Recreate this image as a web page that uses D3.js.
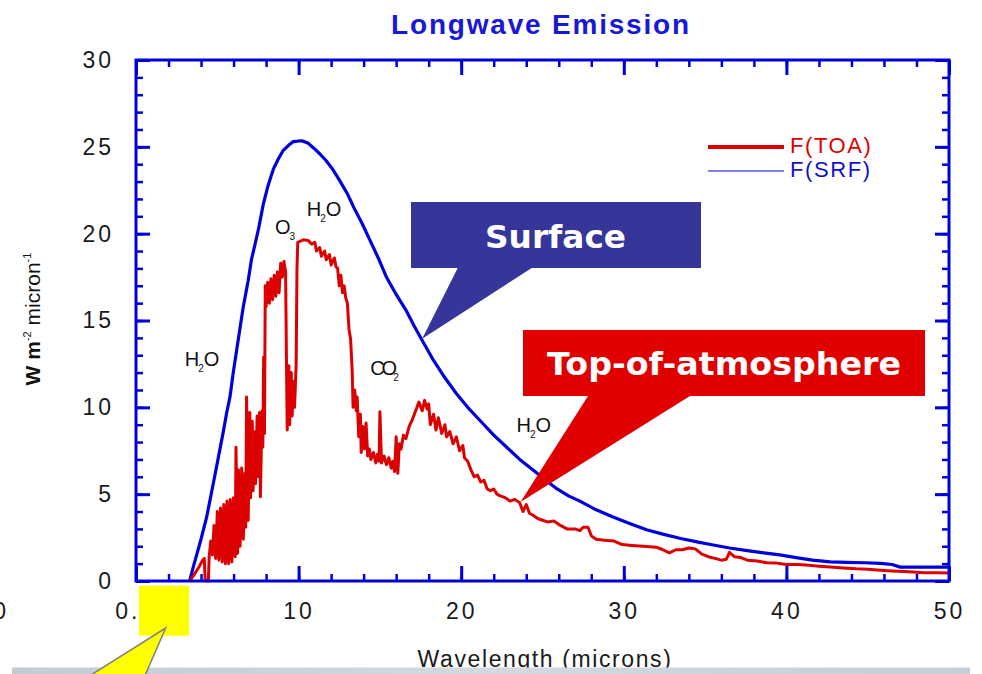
<!DOCTYPE html>
<html>
<head>
<meta charset="utf-8">
<script src="https://cdn.jsdelivr.net/npm/d3@7"></script>
<style>
  html, body { margin: 0; padding: 0; background: #fff; }
  svg { display: block; }
</style>
</head>
<body>
<svg id="chart" width="982" height="674"></svg>
<script>
// ---- Data -------------------------------------------------------------
const chartTitle = "Longwave Emission";
const xAxisTitle = "Wavelength (microns)";
const xTickValues = [0, 10, 20, 30, 40, 50];
const xTickLabels = ["0.", "10", "20", "30", "40", "50"];
const yTickValues = [0, 5, 10, 15, 20, 25, 30];
const yTickLabels = ["0", "5", "10", "15", "20", "25", "30"];
const legendLabels = ["F(TOA)", "F(SRF)"];

// Surface emission spectrum [wavelength (micron), W m-2 micron-1]
const surfaceSpectrum = [
  [3.3,0],[3.52,0.8],[3.94,2.2],[4.35,3.7],[4.75,5.6],[5.0,6.8],[5.37,8.6],[5.58,9.7],
  [5.78,10.6],[5.98,12.0],[6.29,13.9],[6.6,15.8],[6.9,17.3],[7.1,18.5],[7.52,20.2],
  [7.83,21.7],[8.1,22.7],[8.44,23.7],[8.75,24.3],[9.06,24.8],[9.4,25.1],[9.67,25.3],
  [10.2,25.35],[10.6,25.2],[10.9,24.95],[11.3,24.6],[11.7,24.2],[12.1,23.7],[12.5,23.1],
  [13.0,22.3],[13.4,21.5],[13.9,20.6],[14.4,19.6],[14.9,18.6],[15.4,17.5],[16.0,16.5],
  [16.6,15.6],[17.1,14.7],[17.57,13.9],[18.3,12.7],[19.0,11.7],[19.7,10.8],[20.4,10.0],
  [21.2,9.2],[22.0,8.4],[22.8,7.7],[23.6,7.0],[24.4,6.4],[25.2,5.8],[25.9,5.3],[26.6,4.9],
  [27.3,4.6],[28.3,4.1],[29.3,3.7],[30.4,3.3],[31.4,2.95],[32.4,2.7],[33.5,2.45],
  [34.5,2.25],[35.5,2.07],[36.5,1.9],[37.6,1.75],[38.6,1.62],[39.6,1.5],[40.6,1.35],
  [41.6,1.2],[42.7,1.1],[43.7,1.07],[44.8,1.05],[45.8,1.02],[46.5,0.95],[47.0,0.8],
  [48.0,0.8],[49.0,0.8],[50.0,0.8]
];

// Top-of-atmosphere emission spectrum [wavelength (micron), W m-2 micron-1]
const toaSpectrum = [
  [3.3,0],[3.6,0.4],[3.9,0.85],[4.1,1.2],[4.2,1.3],[4.25,0.1],[4.35,0],[4.45,0],
  [4.5,1.4],[4.6,2.3],[4.7,1.5],[4.8,3.2],[4.9,1.3],[5.0,4.0],[5.1,1.2],[5.2,4.2],
  [5.3,1.1],[5.4,4.4],[5.5,1.0],[5.6,4.6],[5.7,1.0],[5.8,4.7],[5.9,1.1],[6.0,4.8],
  [6.1,1.4],[6.15,7.7],[6.25,1.6],[6.3,6.4],[6.4,2.0],[6.5,6.5],[6.6,2.4],[6.7,6.2],
  [6.75,3.1],[6.8,10.6],[6.9,3.5],[7.0,9.7],[7.05,4.8],[7.15,9.2],[7.2,5.2],[7.3,8.6],
  [7.35,5.6],[7.45,9.5],[7.5,6.0],[7.6,9.7],[7.65,4.85],[7.75,9.8],[7.8,7.7],[7.85,12.9],
  [7.9,8.5],[7.95,17.0],[8.0,15.8],[8.1,17.2],[8.2,16.0],[8.3,17.4],[8.4,16.2],[8.5,17.6],
  [8.6,16.4],[8.7,17.8],[8.8,16.6],[8.9,18.3],[9.0,17.5],[9.1,18.4],[9.2,17.8],[9.25,13.0],
  [9.3,8.7],[9.4,12.4],[9.45,9.0],[9.55,12.0],[9.6,9.5],[9.7,11.5],[9.75,10.0],[9.85,12.5],
  [9.9,18.0],[9.95,19.5],[10.3,19.65],[10.6,19.6],[10.8,19.4],[11.0,19.5],[11.1,19.0],
  [11.3,19.2],[11.4,18.7],[11.6,19.0],[11.7,18.5],[11.9,18.8],[12.0,18.2],[12.2,18.6],
  [12.3,18.1],[12.4,18.0],[12.5,17.0],[12.6,17.6],[12.7,16.6],[12.8,17.0],[12.9,16.3],
  [13.0,16.0],[13.1,14.5],[13.2,13.9],[13.3,12.0],[13.35,10.0],[13.45,11.0],[13.55,9.8],
  [13.6,10.6],[13.7,8.3],[13.8,9.6],[13.85,7.4],[13.95,8.9],[14.05,7.6],[14.15,9.1],
  [14.25,7.2],[14.35,7.6],[14.45,7.0],[14.6,7.4],[14.75,6.8],[14.85,7.3],[14.95,6.9],
  [15.0,9.75],[15.1,6.8],[15.25,7.2],[15.4,6.7],[15.55,7.1],[15.7,6.5],[15.8,6.9],
  [15.9,6.3],[16.0,8.3],[16.1,6.2],[16.2,7.9],[16.3,7.6],[16.45,8.4],[16.6,8.2],[16.8,8.9],
  [17.0,9.3],[17.2,9.8],[17.4,10.3],[17.6,9.8],[17.75,10.4],[17.9,9.9],[18.0,10.2],
  [18.1,9.0],[18.3,9.6],[18.45,8.7],[18.6,9.4],[18.8,8.5],[19.0,9.0],[19.1,8.3],[19.3,8.6],
  [19.5,7.9],[19.7,8.3],[19.9,7.5],[20.1,7.8],[20.2,7.1],[20.4,6.9],[20.6,6.4],[20.8,6.0],
  [21.0,6.1],[21.2,5.7],[21.4,5.8],[21.6,5.3],[21.8,5.2],[22.0,5.3],[22.2,5.0],[22.4,4.9],
  [22.7,4.8],[23.0,4.6],[23.3,4.7],[23.6,4.5],[23.8,4.0],[24.0,4.4],[24.2,3.9],[24.4,3.8],
  [24.7,3.6],[25.0,3.5],[25.3,3.4],[25.7,3.45],[26.1,3.2],[26.5,3.0],[27.0,3.0],[27.3,2.9],
  [27.5,3.1],[27.8,3.1],[28.0,2.6],[28.3,2.4],[28.8,2.35],[29.4,2.3],[29.9,2.1],[30.5,2.05],
  [31.2,2.0],[32.0,1.95],[32.4,1.8],[32.8,1.62],[33.2,1.8],[33.6,1.8],[34.0,1.9],[34.4,1.85],
  [34.8,1.55],[35.2,1.4],[35.6,1.3],[36.0,1.2],[36.3,1.25],[36.5,1.65],[36.8,1.4],
  [37.2,1.35],[37.6,1.2],[38.2,1.15],[38.8,1.05],[39.4,1.03],[40.0,0.95],[40.7,0.95],
  [41.4,0.9],[42.0,0.85],[42.7,0.8],[43.5,0.75],[44.3,0.7],[45.0,0.68],[45.8,0.62],
  [46.5,0.58],[47.2,0.55],[47.8,0.52],[48.5,0.48],[49.2,0.47],[50.0,0.46]
];

// Absorber labels: base text, subscript, trailing text, anchor (wavelength, flux)
const gasBase = ["H", "O", "H", "CO", "H"];
const gasSub = ["2", "3", "2", "2", "2"];
const gasTail = ["O", "", "O", "", "O"];
const gasWavelength = [3.0, 8.55, 10.5, 14.4, 23.4];
const gasFlux = [12.4, 20.0, 21.0, 11.85, 8.6];

// Callout texts and the spectrum points they point at
const calloutTexts = ["Surface", "Top-of-atmosphere"];
const calloutTargets = [[17.6, 13.95], [23.65, 4.55]];

// ---- Setup ------------------------------------------------------------
const svg = d3.select("#chart");
const x = d3.scaleLinear().domain([0, 50]).range([136, 949]);
const y = d3.scaleLinear().domain([0, 30]).range([581, 60]);

const AXIS_BLUE = "#0000dc";
const SRF_BLUE = "#0000dc";
const TOA_RED = "#dd0000";
const FONT = "'Liberation Sans', Arial, Helvetica, sans-serif";
const CALLOUT_FONT = "'Comic Sans MS', 'DejaVu Sans', sans-serif";

// ---- Title ------------------------------------------------------------
svg.append("text")
  .attr("x", 541).attr("y", 34)
  .attr("text-anchor", "middle")
  .attr("font-family", FONT)
  .attr("font-weight", "bold")
  .attr("font-size", 28)
  .attr("letter-spacing", 1.8)
  .attr("fill", "#1818d8")
  .text(chartTitle);

// ---- Spectra ------------------------------------------------------------
const line = d3.line().x(d => x(d[0])).y(d => y(d[1]));

svg.append("path")
  .datum(surfaceSpectrum)
  .attr("d", line)
  .attr("fill", "none")
  .attr("stroke", SRF_BLUE)
  .attr("stroke-width", 3.2)
  .attr("stroke-linejoin", "round");

svg.append("path")
  .datum(toaSpectrum)
  .attr("d", line)
  .attr("fill", "none")
  .attr("stroke", TOA_RED)
  .attr("stroke-width", 3)
  .attr("stroke-linejoin", "round");

// ---- Axes (inward ticks on all four sides) ------------------------------
function styleTicks(g, width) {
  g.select(".domain").remove();
  g.selectAll(".tick line").attr("stroke", AXIS_BLUE).attr("stroke-width", width);
}
function styleLabels(g) {
  g.selectAll(".tick text")
    .attr("font-family", FONT)
    .attr("font-size", 23)
    .attr("letter-spacing", 3)
    .attr("fill", "#1a1a1a");
}

const minorX = d3.range(0, 51, 2);
const minorY = d3.range(0, 31, 1);

// bottom
svg.append("g").attr("transform", "translate(0,581)")
  .call(d3.axisBottom(x).tickValues(minorX).tickSize(-7).tickFormat(""))
  .call(g => styleTicks(g, 2.5));
const xAxisG = svg.append("g").attr("transform", "translate(0,581)")
  .call(d3.axisBottom(x).tickValues(xTickValues).tickSize(-15).tickPadding(22)
    .tickFormat((d, i) => xTickLabels[i]))
  .call(g => styleTicks(g, 3))
  .call(styleLabels);
xAxisG.selectAll(".tick text").filter(d => d === 0)
  .attr("text-anchor", "end").attr("x", 4);

// top
svg.append("g").attr("transform", "translate(0,60)")
  .call(d3.axisTop(x).tickValues(minorX).tickSize(-7).tickFormat(""))
  .call(g => styleTicks(g, 2.5));
svg.append("g").attr("transform", "translate(0,60)")
  .call(d3.axisTop(x).tickValues(xTickValues).tickSize(-15).tickFormat(""))
  .call(g => styleTicks(g, 3));

// left
svg.append("g").attr("transform", "translate(136,0)")
  .call(d3.axisLeft(y).tickValues(minorY).tickSize(-7).tickFormat(""))
  .call(g => styleTicks(g, 2.5));
svg.append("g").attr("transform", "translate(136,0)")
  .call(d3.axisLeft(y).tickValues(yTickValues).tickSize(-14).tickPadding(22)
    .tickFormat((d, i) => yTickLabels[i]))
  .call(g => styleTicks(g, 3))
  .call(styleLabels);

// right
svg.append("g").attr("transform", "translate(949,0)")
  .call(d3.axisRight(y).tickValues(minorY).tickSize(-7).tickFormat(""))
  .call(g => styleTicks(g, 2.5));
svg.append("g").attr("transform", "translate(949,0)")
  .call(d3.axisRight(y).tickValues(yTickValues).tickSize(-14).tickFormat(""))
  .call(g => styleTicks(g, 3));

// frame
svg.append("rect")
  .attr("x", x(0)).attr("y", y(30))
  .attr("width", x(50) - x(0)).attr("height", y(0) - y(30))
  .attr("fill", "none")
  .attr("stroke", AXIS_BLUE)
  .attr("stroke-width", 3);

// stray tick label at the far left edge
svg.append("text")
  .attr("x", 6).attr("y", 619)
  .attr("text-anchor", "end")
  .attr("font-family", FONT).attr("font-size", 23)
  .attr("fill", "#1a1a1a")
  .text("0");

// ---- Axis titles --------------------------------------------------------
const yTitle = svg.append("text")
  .attr("transform", "translate(40,319) rotate(-90)")
  .attr("text-anchor", "middle")
  .attr("font-family", FONT)
  .attr("font-size", 21)
  .attr("fill", "#111");
yTitle.append("tspan").attr("font-weight", "bold").text("W m");
yTitle.append("tspan").attr("font-size", 11).attr("dy", -9).text("-2");
yTitle.append("tspan").attr("dy", 9).text(" micron");
yTitle.append("tspan").attr("font-size", 11).attr("dy", -9).text("-1");

svg.append("text")
  .attr("x", 545).attr("y", 667)
  .attr("text-anchor", "middle")
  .attr("font-family", FONT)
  .attr("font-size", 23)
  .attr("letter-spacing", 1.6)
  .attr("fill", "#1a1a1a")
  .text(xAxisTitle);

// ---- Legend ---------------------------------------------------------------
const legendColors = [TOA_RED, "#1010d0"];
const legendWidths = [4, 1.2];
legendLabels.forEach((lab, i) => {
  const ly = 147 + i * 24;
  svg.append("line")
    .attr("x1", 708).attr("x2", 784)
    .attr("y1", ly).attr("y2", ly)
    .attr("stroke", i === 0 ? TOA_RED : SRF_BLUE)
    .attr("stroke-width", legendWidths[i]);
  svg.append("text")
    .attr("x", 790).attr("y", ly + 6)
    .attr("font-family", FONT)
    .attr("font-size", 22)
    .attr("letter-spacing", 1.6)
    .attr("fill", legendColors[i])
    .text(lab);
});

// ---- Absorber labels ----------------------------------------------------
gasBase.forEach((b, i) => {
  const t = svg.append("text")
    .attr("x", x(gasWavelength[i]))
    .attr("y", y(gasFlux[i]))
    .attr("font-family", FONT)
    .attr("font-size", 20)
    .attr("fill", "#111");
  t.append("tspan").attr("letter-spacing", b.length > 1 ? -3 : 0).text(b);
  t.append("tspan").attr("font-size", 10).attr("dy", 6).attr("dx", -1).text(gasSub[i]);
  if (gasTail[i]) t.append("tspan").attr("dy", -6).attr("dx", 0).text(gasTail[i]);
});

// ---- Callouts -----------------------------------------------------------
function callout(rect, base, target, fill, label, textX, textY, textLen) {
  const [tx, ty] = [x(target[0]), y(target[1])];
  const path = d3.path();
  path.moveTo(rect.x0, rect.y0);
  path.lineTo(rect.x1, rect.y0);
  path.lineTo(rect.x1, rect.y1);
  path.lineTo(base[1], rect.y1);
  path.lineTo(tx, ty);
  path.lineTo(base[0], rect.y1);
  path.lineTo(rect.x0, rect.y1);
  path.closePath();
  svg.append("path").attr("d", path.toString()).attr("fill", fill);
  svg.append("text")
    .attr("x", textX).attr("y", textY)
    .attr("font-family", CALLOUT_FONT)
    .attr("font-weight", "bold")
    .attr("font-size", 32)
    .attr("fill", "#fff")
    .attr("textLength", textLen)
    .attr("lengthAdjust", "spacingAndGlyphs")
    .text(label);
}
callout({x0: 411, y0: 202, x1: 701, y1: 268}, [457.7, 531.7], calloutTargets[0],
  "#35359a", calloutTexts[0], 485, 248, 141);
callout({x0: 523, y0: 330, x1: 925, y1: 396}, [588, 690], calloutTargets[1],
  "#e00000", calloutTexts[1], 547, 375, 354);

// ---- Bottom strip and yellow marker -------------------------------------
const grad = svg.append("defs").append("linearGradient").attr("id", "strip");
grad.append("stop").attr("offset", "0%").attr("stop-color", "#c2cbd4");
grad.append("stop").attr("offset", "50%").attr("stop-color", "#d3d9df");
grad.append("stop").attr("offset", "100%").attr("stop-color", "#c6ced6");
svg.append("rect")
  .attr("x", 12).attr("y", 667.5)
  .attr("width", 958).attr("height", 10)
  .attr("fill", "url(#strip)");

svg.append("rect")
  .attr("x", 139).attr("y", 585.7)
  .attr("width", 50).attr("height", 50)
  .attr("fill", "#ffff00");
svg.append("path")
  .attr("d", "M83,680 L165.7,628 L143,680 Z")
  .attr("fill", "#ffff00")
  .attr("stroke", "#808080")
  .attr("stroke-width", 1.5);
</script>
</body>
</html>
